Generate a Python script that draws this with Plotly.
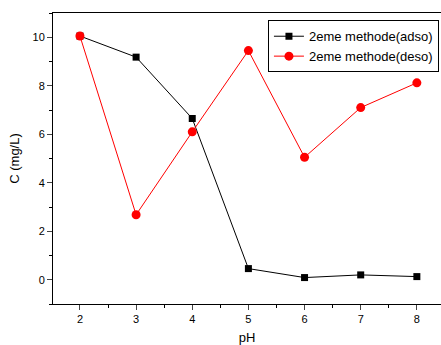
import plotly.graph_objects as go

ph = [2, 3, 4, 5, 6, 7, 8]
adso = [10.05, 9.18, 6.65, 0.46, 0.09, 0.2, 0.13]
deso = [10.05, 2.68, 6.1, 9.45, 5.05, 7.1, 8.12]

fig = go.Figure()
fig.add_trace(go.Scatter(x=ph, y=adso, mode="lines+markers", name="2eme methode(adso)",
                         line=dict(color="black", width=1),
                         marker=dict(symbol="square", size=7, color="black")))
fig.add_trace(go.Scatter(x=ph, y=deso, mode="lines+markers", name="2eme methode(deso)",
                         line=dict(color="red", width=1),
                         marker=dict(symbol="circle", size=9, color="red")))

fig.update_layout(
    width=441, height=345,
    margin=dict(l=53, r=0, t=13, b=41),
    paper_bgcolor="white", plot_bgcolor="white",
    font=dict(family="Arial, Liberation Sans", size=11, color="black"),
    showlegend=True,
    legend=dict(x=0.554, y=0.975, xanchor="left", yanchor="top",
                bordercolor="black", borderwidth=1, bgcolor="white",
                font=dict(size=13), tracegroupgap=0, itemwidth=30),
    xaxis=dict(range=[1.52, 8.43], tickvals=ph, ticks="outside", ticklen=5,
               showgrid=False, zeroline=False, showline=True, linecolor="black",
               linewidth=1, mirror=True, tickfont=dict(size=11),
               minor=dict(tickvals=[1.5, 2.5, 3.5, 4.5, 5.5, 6.5, 7.5], ticks="outside", ticklen=3, tickcolor="black"),
               title=dict(text="pH", font=dict(size=13), standoff=9)),
    yaxis=dict(range=[-1, 11], tickvals=[0, 2, 4, 6, 8, 10], ticks="outside", ticklen=5,
               showgrid=False, zeroline=False, showline=True, linecolor="black",
               linewidth=1, mirror=True, tickfont=dict(size=11),
               minor=dict(tickvals=[-1, 1, 3, 5, 7, 9, 11], ticks="outside", ticklen=3, tickcolor="black"),
               title=dict(text="C (mg/L)", font=dict(size=13), standoff=9)),
)

fig.write_html("out.html")
